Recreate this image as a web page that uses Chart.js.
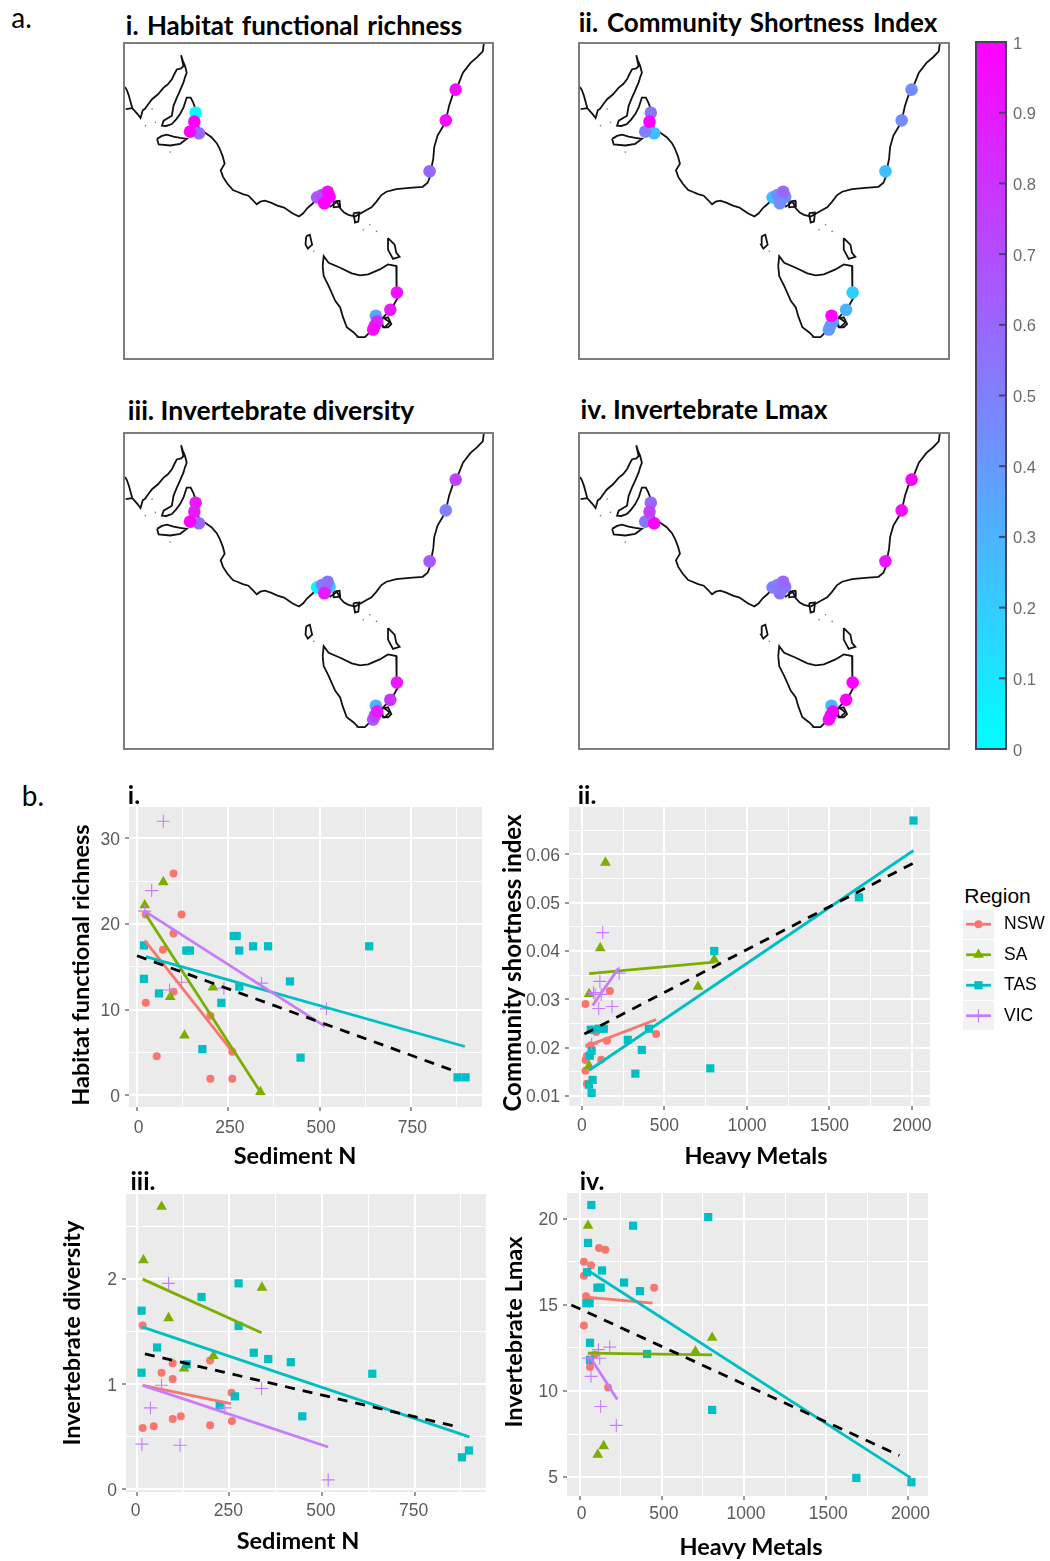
<!DOCTYPE html>
<html>
<head>
<meta charset="utf-8">
<title>Habitat maps and regressions</title>
<script src="https://cdn.jsdelivr.net/npm/chart.js@4/dist/chart.umd.min.js"></script>
<style>
  html, body { margin: 0; padding: 0; background: #fff; }
  #page { position: relative; width: 1050px; height: 1561px; overflow: hidden; }
  canvas { position: absolute; }
  .frame { position: absolute; border: 2px solid #7d7d7d; box-sizing: border-box; }
  .label { position: absolute; white-space: nowrap; color: #000; transform-origin: center center; }
</style>
</head>
<body>
<div id="page"></div>
<script>
// ---- coastline, traced in map units (y runs down) ----
const mapWidth = 1112, mapHeight = 950;
const coastMainland = [[0,130],[6,140],[12,157],[22,194],[2,197],[22,194],[38,212],[47,224],[54,200],[60,197],[72,180],[82,167],[100,152],[117,132],[130,122],[142,107],[150,90],[157,77],[170,74],[177,67],[170,34],[175,50],[182,67],[187,87],[182,100],[177,117],[165,145],[157,162],[147,187],[142,217],[117,232],[112,247],[125,248],[142,242],[155,228],[167,212],[178,190],[187,162],[199,162],[207,178],[214,197],[219,230],[224,257],[245,270],[262,282],[278,300],[287,317],[296,340],[302,362],[290,382],[297,402],[310,422],[327,442],[340,447],[357,454],[374,459],[387,472],[399,485],[410,477],[424,474],[442,480],[462,489],[482,495],[507,512],[527,522],[540,512],[552,497],[567,484],[577,474],[602,472],[622,492],[642,477],[652,497],[664,510],[677,517],[697,522],[732,502],[747,494],[762,477],[777,457],[792,447],[822,439],[862,435],[902,432],[917,420],[924,402],[927,382],[934,347],[937,312],[947,277],[962,252],[972,232],[982,187],[992,157],[1010,122],[1024,87],[1047,57],[1067,40],[1084,22],[1087,0]];
const coastKangaroo = [[97,287],[112,278],[127,274],[147,280],[167,284],[187,287],[167,302],[137,307],[102,304],[97,287]];
const coastKing = [[549,582],[560,577],[567,607],[554,619],[547,607],[549,582]];
const coastFlinders = [[797,587],[817,607],[822,632],[832,644],[812,650],[797,622],[797,587]];
const coastTasmania = [[599,672],[602,642],[617,662],[652,677],[687,694],[712,700],[737,697],[772,682],[797,667],[822,672],[824,712],[822,747],[825,770],[807,802],[782,827],[802,842],[787,857],[767,847],[742,872],[727,887],[707,887],[692,872],[672,857],[660,825],[652,797],[637,777],[617,732],[602,702],[599,672]];
const coastTasman = [[777,832],[797,827],[807,847],[797,857],[782,857],[777,832]];
const coastWilsons = [[692,512],[710,510],[707,537],[697,540],[692,512]];
const coastWesternPort = [[632,477],[650,474],[652,492],[632,494],[632,477]];
const coastIslets = [[722,562],[762,567],[742,547],[62,247],[92,237],[82,197],[137,327],[572,627],[702,887]];

// ---- sampling sites and the scaled value at each one ----
const siteX = [214,210,197,224,1002,972,923,582,597,614,620,607,604,824,804,760,764,757,752];
const siteY = [208,235,265,270,138,231,385,464,457,447,462,474,482,752,804,822,840,852,864];
const richnessSites   = [0,1,1,.6,.95,.95,.6,.65,.7,.95,1,.75,1,.95,.9,.35,.85,.9,.95];
const shortnessSites  = [.55,1,.5,.25,.45,.45,.25,.25,.45,.6,.45,.45,.45,.2,.3,1,.35,.4,.4];
const diversitySites  = [.9,.9,1,.6,.75,.5,.65,.05,.5,.55,.2,.6,.9,.9,.8,.3,.9,.75,.65];
const lmaxSites       = [.6,.75,.55,1,1,.95,.9,.5,.5,.6,.55,.55,.55,1,1,.3,1,.95,.95];
const colourTicks = [0,.1,.2,.3,.4,.5,.6,.7,.8,.9,1];

// ---- b.i habitat functional richness vs sediment N ----
const richnessNSW = [[100,25.9],[122,21.1],[24,21.1],[100,18.9],[71,17],[100,12.1],[24,10.8],[54,4.55],[201,9.3],[261,5.1],[201,1.95],[261,1.95]];
const richnessSA = [[21,22.2],[72,24.9],[91,11.5],[208,12.6],[130,7],[338,.4]];
const richnessTAS = [[19,17.5],[19,13.6],[60,11.9],[135,16.9],[145,16.9],[179,5.4],[231,10.8],[265,18.6],[273,18.6],[280,16.9],[280,12.7],[318,17.4],[359,17.4],[419,13.3],[448,4.4],[636,17.4],[878,2.1],[900,2.1]];
const richnessVIC = [[72,32],[40,23.9],[21,21.5],[89,12.3],[122,13.2],[238,12.5],[341,13.1],[519,10.1]];
const richnessFitNSW = [[21,18.1],[261,5.1]];
const richnessFitSA = [[24,21.1],[338,.4]];
const richnessFitTAS = [[24,16.2],[898,5.7]];
const richnessFitVIC = [[21,21.5],[515,8.05]];
const richnessFitAll = [[0,16.3],[872,2.8]];

// ---- b.ii community shortness index vs heavy metals ----
const shortnessNSW = [[22,.029],[170,.0317],[59,.0237],[87,.0232],[450,.0228],[152,.0214],[54,.0204],[30,.0182],[22,.0174],[117,.0175],[22,.0152],[30,.0125]];
const shortnessSA = [[143,.0583],[111,.0406],[802,.0382],[704,.0326],[44,.0311],[44,.0162]];
const shortnessTAS = [[2009,.067],[1678,.0511],[802,.04],[133,.0239],[102,.0239],[54,.0237],[406,.0239],[278,.0216],[363,.0195],[59,.0193],[48,.0183],[778,.0157],[324,.0146],[65,.0133],[43,.0123],[59,.0106]];
const shortnessVIC = [[126,.0438],[226,.0354],[109,.0337],[70,.0314],[117,.031],[80,.031],[102,.0281],[183,.0285],[59,.0207]];
const shortnessFitNSW = [[22,.0202],[450,.0258]];
const shortnessFitSA = [[44,.0353],[802,.0377]];
const shortnessFitTAS = [[44,.0153],[2009,.0608]];
const shortnessFitVIC = [[65,.0287],[222,.0364]];
const shortnessFitAll = [[15,.0228],[2009,.0582]];

// ---- b.iii invertebrate diversity vs sediment N ----
const diversityNSW = [[16,1.56],[97,1.2],[67,1.11],[97,1.05],[198,1.225],[256,.92],[257,.65],[97,.67],[119,.695],[198,.61],[16,.585],[46,.6]];
const diversitySA = [[67,2.69],[18,2.18],[338,1.92],[86,1.63],[207,1.27],[128,1.15]];
const diversityTAS = [[13,1.7],[275,1.96],[175,1.83],[275,1.555],[55,1.35],[316,1.3],[355,1.24],[416,1.21],[135,1.19],[13,1.11],[636,1.1],[265,.885],[224,.8],[447,.695],[897,.37],[878,.305]];
const diversityVIC = [[86,1.96],[67,.99],[337,.96],[37,.775],[238,.775],[14,.43],[117,.42],[517,.09]];
const diversityFitNSW = [[16,.99],[254,.815]];
const diversityFitSA = [[16,2],[337,1.49]];
const diversityFitTAS = [[14,1.546],[898,.5]];
const diversityFitVIC = [[16,.99],[517,.403]];
const diversityFitAll = [[22,1.29],[873,.59]];

// ---- b.iv invertebrate Lmax vs heavy metals ----
const lmaxNSW = [[118,18.3],[156,18.2],[26,17.5],[69,17.3],[26,16.7],[453,16],[39,15.5],[26,13.8],[91,12.1],[63,11.4],[173,10.2]];
const lmaxSA = [[51,19.6],[806,13.1],[704,12.3],[146,6.8],[110,6.3]];
const lmaxTAS = [[71,20.8],[782,20.1],[325,19.6],[51,18.6],[136,17],[45,16.9],[270,16.3],[108,16],[128,16],[367,15.8],[41,15.1],[61,15.1],[63,12.8],[410,12.15],[63,11.8],[806,8.9],[1683,4.95],[2018,4.7]];
const lmaxVIC = [[183,12.55],[114,12.4],[122,11.9],[53,11.9],[69,10.85],[128,9.1],[223,8]];
const lmaxFitNSW = [[39,15.45],[443,15.1]];
const lmaxFitSA = [[51,12.2],[806,12.1]];
const lmaxFitTAS = [[51,17],[2014,4.95]];
const lmaxFitVIC = [[61,12],[229,9.5]];
const lmaxFitAll = [[-51,15],[1945,6.25]];

const regions = ['NSW','SA','TAS','VIC'];
const regionColours = ['#F8766D','#7CAE00','#00BFC4','#C77CFF'];
const regionStyles = ['circle','triangle','rect','cross'];
const regionRadius = [4,6.2,5.8,6.5];

const page = document.getElementById('page');
Chart.defaults.animation = false;
Chart.defaults.responsive = false;
Chart.defaults.plugins.legend.display = false;
Chart.defaults.plugins.tooltip.enabled = false;

function xy(pts) { return pts.map(p => ({x: p[0], y: p[1]})); }

function addCanvas(x, y, w, h) {
  let c = document.createElement('canvas');
  c.width = w; c.height = h;
  c.style.left = x + 'px'; c.style.top = y + 'px';
  c.style.width = w + 'px'; c.style.height = h + 'px';
  page.appendChild(c);
  return c;
}

function addText(text, cx, cy, css, rotate) {
  let d = document.createElement('div');
  d.className = 'label';
  d.textContent = text;
  d.style.cssText = css;
  d.style.left = cx + 'px';
  d.style.top = cy + 'px';
  d.style.transform = 'translate(-50%,-50%)' + (rotate ? ' rotate(-90deg)' : '');
  page.appendChild(d);
}

// pin a scale box so the plot area lands where the page layout wants it
function fixBox(s, width, height) {
  if (width !== null) s.width = width;
  if (height !== null) s.height = height;
  s.paddingLeft = s.paddingRight = s.paddingTop = s.paddingBottom = 0;
}

// cyan -> magenta, same ramp as the colour bar
function rampColour(v) {
  return `rgb(${Math.round(v * 255)},${Math.round((1 - v) * 255)},255)`;
}

function drawMap(left, top, width, height, values) {
  let frame = document.createElement('div');
  frame.className = 'frame';
  frame.style.cssText = `left:${left}px;top:${top}px;width:${width}px;height:${height}px`;
  page.appendChild(frame);

  let coast = [coastMainland, coastKangaroo, coastKing, coastFlinders, coastTasmania, coastTasman, coastWilsons, coastWesternPort];
  // higher scores sit on top of lower ones
  let sites = siteX.map((x, i) => ({x: x, y: siteY[i], v: values[i]})).sort((a, b) => a.v - b.v);
  let datasets = [{
    data: sites,
    showLine: false,
    pointRadius: 6.3,
    pointBorderWidth: 0,
    pointBackgroundColor: sites.map(s => rampColour(s.v))
  }];
  coast.forEach(c => datasets.push({
    data: xy(c), showLine: true, borderColor: '#111', borderWidth: 1.8, pointRadius: 0, tension: 0
  }));
  datasets.push({data: xy(coastIslets), showLine: false, pointRadius: 0.8, pointBorderWidth: 0, pointBackgroundColor: '#777'});

  let canvas = addCanvas(left + 2, top + 2, width - 4, height - 4);
  canvas.style.filter = 'blur(0.35px)';
  new Chart(canvas, {
    type: 'scatter',
    data: {datasets: datasets},
    options: {
      layout: {autoPadding: false},
      scales: {
        x: {display: false, min: 0, max: mapWidth},
        y: {display: false, min: 0, max: mapHeight, reverse: true}
      }
    }
  });
}

drawMap(123, 42, 371, 318, richnessSites);
drawMap(578, 42, 372, 318, shortnessSites);
drawMap(123, 432, 371, 318, diversitySites);
drawMap(578, 432, 372, 318, lmaxSites);

// colour bar
new Chart(addCanvas(966, 32, 84, 727), {
  type: 'bar',
  data: {labels: ['scale'], datasets: [{
    data: [[0, 1]],
    barPercentage: 1,
    categoryPercentage: 1,
    backgroundColor: function(ctx) {
      let area = ctx.chart.chartArea;
      if (!area) return 'transparent';
      let g = ctx.chart.ctx.createLinearGradient(0, area.bottom, 0, area.top);
      g.addColorStop(0, rampColour(0));
      g.addColorStop(1, rampColour(1));
      return g;
    }
  }]},
  options: {
    layout: {autoPadding: false, padding: {top: 10, bottom: 10, left: 10}},
    scales: {
      x: {display: false},
      y: {
        position: 'right', min: 0, max: 1,
        afterFit: s => fixBox(s, 44, null),
        afterBuildTicks: s => { s.ticks = colourTicks.map(v => ({value: v})); },
        border: {display: false},
        grid: {display: false, drawTicks: false},
        ticks: {color: '#6b6b6b', padding: 7, labelOffset: 2, font: {family: 'Liberation Sans', size: 16.5}, callback: v => String(v)}
      }
    }
  },
  plugins: [{
    id: 'barFrame',
    afterDatasetsDraw(chart) {
      let a = chart.chartArea, c = chart.ctx, sy = chart.scales.y;
      c.save();
      c.strokeStyle = '#4b3f63';
      c.lineWidth = 2;
      c.strokeRect(a.left, a.top, a.width, a.height);
      colourTicks.forEach(v => {
        if (v === 0 || v === 1) return;
        let py = sy.getPixelForValue(v);
        c.beginPath(); c.moveTo(a.right - 7, py); c.lineTo(a.right, py); c.stroke();
      });
      c.restore();
    }
  }]
});

const panelBackground = {
  id: 'panelBackground',
  beforeDraw(chart) {
    let a = chart.chartArea;
    chart.ctx.save();
    chart.ctx.fillStyle = '#ebebeb';
    chart.ctx.fillRect(a.left, a.top, a.width, a.height);
    chart.ctx.restore();
  }
};

function isMajor(v, major) {
  return Math.abs(v / major - Math.round(v / major)) < 1e-6;
}

function axis(min, max, minorStep, majorStep, digits, labelPad, labelShift, fit) {
  return {
    min: min, max: max,
    afterFit: fit,
    // stepped ticks from zero; the auto tick maker snaps to min when the range is nearly whole
    afterBuildTicks: s => {
      let out = [];
      for (let k = Math.ceil(min / minorStep); k * minorStep <= max; k++) {
        out.push({value: Math.round(k * minorStep * 1e6) / 1e6});
      }
      s.ticks = out;
    },
    border: {display: false},
    grid: {
      color: '#fff',
      lineWidth: ctx => isMajor(ctx.tick.value, majorStep) ? 2 : 1,
      tickColor: ctx => isMajor(ctx.tick.value, majorStep) ? '#333' : 'rgba(0,0,0,0)',
      tickWidth: 1,
      tickLength: 4
    },
    ticks: {
      autoSkip: false,
      maxRotation: 0,
      minRotation: 0,
      padding: labelPad,
      labelOffset: labelShift,
      color: '#5a5a5a',
      font: {family: 'Liberation Sans', size: 17.5},
      callback: v => isMajor(v, majorStep) ? Number(v).toFixed(digits) : ''
    }
  };
}

// panel = plotting area in page pixels
function drawPanel(panel, xAxis, yAxis, points, fits, fitAll) {
  const leftGutter = 52, bottomGutter = 38, pad = 10;
  let w = panel.right - panel.left, h = panel.bottom - panel.top;
  let datasets = [{
    data: xy(fitAll), showLine: true, borderColor: '#000', borderWidth: 2.8, borderDash: [10, 8], pointRadius: 0
  }];
  for (let i = 3; i >= 0; i--) {
    datasets.push({data: xy(fits[i]), showLine: true, borderColor: regionColours[i], borderWidth: 2.8, pointRadius: 0});
  }
  for (let i = 3; i >= 0; i--) {
    datasets.push({
      data: xy(points[i]), showLine: false,
      pointStyle: regionStyles[i], pointRadius: regionRadius[i],
      pointBackgroundColor: regionColours[i], pointBorderColor: regionColours[i],
      pointBorderWidth: i === 3 ? 1.1 : 0
    });
  }
  let canvas = addCanvas(panel.left - leftGutter, panel.top - pad, w + leftGutter + 22, h + pad + bottomGutter);
  canvas.style.filter = 'blur(0.3px)';
  new Chart(canvas, {
    type: 'scatter',
    data: {datasets: datasets},
    options: {
      layout: {autoPadding: false, padding: {top: pad, right: 22}},
      scales: {
        x: axis(xAxis[0], xAxis[1], xAxis[2], xAxis[3], 0, xAxis[4], xAxis[5], s => fixBox(s, null, bottomGutter)),
        y: axis(yAxis[0], yAxis[1], yAxis[2], yAxis[3], yAxis[4], 5, 1.5, s => fixBox(s, leftGutter, null))
      }
    },
    plugins: [panelBackground]
  });
}

drawPanel({left: 129, right: 482, top: 807, bottom: 1107},
  [-22, 945, 125, 250, 7, 1.5], [-1.36, 33.66, 5, 10, 0],
  [richnessNSW, richnessSA, richnessTAS, richnessVIC],
  [richnessFitNSW, richnessFitSA, richnessFitTAS, richnessFitVIC], richnessFitAll);
drawPanel({left: 569, right: 930, top: 807, bottom: 1106},
  [-78, 2109, 250, 500, 6, 0], [.0079, .0698, .005, .01, 2],
  [shortnessNSW, shortnessSA, shortnessTAS, shortnessVIC],
  [shortnessFitNSW, shortnessFitSA, shortnessFitTAS, shortnessFitVIC], shortnessFitAll);
drawPanel({left: 126, right: 486, top: 1194, bottom: 1492},
  [-29, 943, 125, 250, 5, -1], [-.025, 2.81, .5, 1, 0],
  [diversityNSW, diversitySA, diversityTAS, diversityVIC],
  [diversityFitNSW, diversityFitSA, diversityFitTAS, diversityFitVIC], diversityFitAll);
drawPanel({left: 567, right: 928, top: 1193, bottom: 1496},
  [-77, 2119, 250, 500, 4, 2], [3.9, 21.5, 2.5, 5, 0],
  [lmaxNSW, lmaxSA, lmaxTAS, lmaxVIC],
  [lmaxFitNSW, lmaxFitSA, lmaxFitTAS, lmaxFitVIC], lmaxFitAll);

// legend keys, one row per region
let legendSets = regions.map((r, i) => ({
  data: [{x: .1, y: i}, {x: .5, y: i}, {x: .9, y: i}],
  showLine: true,
  borderColor: regionColours[i],
  borderWidth: 2.8,
  pointStyle: regionStyles[i],
  pointRadius: [0, regionRadius[i], 0],
  pointBackgroundColor: regionColours[i],
  pointBorderColor: regionColours[i],
  pointBorderWidth: i === 3 ? 1.1 : 0
}));
new Chart(addCanvas(963, 909, 87, 122), {
  type: 'scatter',
  data: {datasets: legendSets},
  options: {
    layout: {autoPadding: false},
    scales: {
      x: {display: false, min: 0, max: 1},
      y: {
        position: 'right', min: -.5, max: 3.5, reverse: true,
        afterFit: s => fixBox(s, 56, null),
        afterBuildTicks: s => { s.ticks = regions.map((r, i) => ({value: i})); },
        border: {display: false},
        grid: {color: '#f2f2f2', lineWidth: 29, drawTicks: false},
        ticks: {color: '#000', padding: 10, font: {family: 'Liberation Sans', size: 17.5}, callback: v => regions[v]}
      }
    }
  }
});

// page text
const bold = s => `font:700 ${s}px Lato,"Noto Sans",sans-serif;`;
addText('a.', 21.5, 17, 'font:400 28px Lato,sans-serif;');
addText('b.', 33, 795, 'font:400 28px Lato,sans-serif;');
addText('i. Habitat functional richness', 294, 25, bold(26) + 'word-spacing:2px;');
addText('ii. Community Shortness Index', 758, 22, bold(26) + 'word-spacing:2.5px;');
addText('iii. Invertebrate diversity', 271, 410, bold(26.5));
addText('iv. Invertebrate Lmax', 704, 409, bold(26.4));
addText('i.', 134, 794, bold(25));
addText('ii.', 587, 794, bold(25));
addText('iii.', 143, 1180, bold(25));
addText('iv.', 592, 1180, bold(25));
addText('Habitat functional richness', 80, 965, bold(23.5), true);
addText('Community shortness index', 510.5, 963, bold(24), true);
addText('Invertebrate diversity', 71, 1333, bold(23.5), true);
addText('Invertebrate Lmax', 513, 1332, bold(23.5), true);
addText('Sediment N', 295, 1155, bold(23.5));
addText('Heavy Metals', 756, 1155, bold(23.5));
addText('Sediment N', 298, 1540, bold(23.5));
addText('Heavy Metals', 751, 1546, bold(23.5));
addText('Region', 997.5, 896, 'font:400 21px "Liberation Sans",sans-serif;');
</script>
</body>
</html>
